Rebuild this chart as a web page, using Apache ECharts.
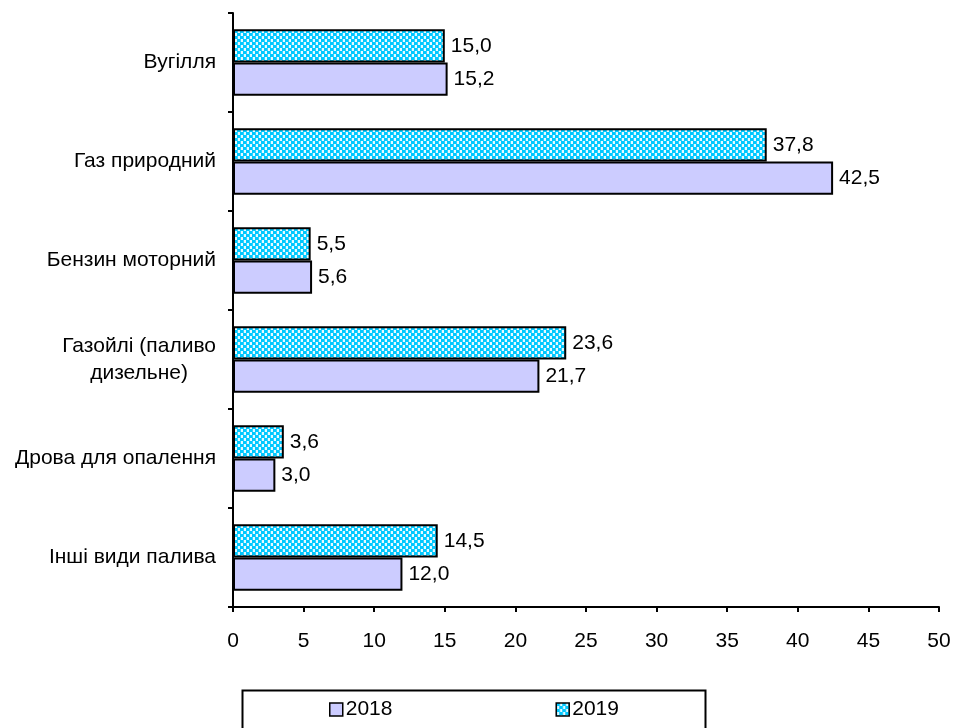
<!DOCTYPE html>
<html>
<head>
<meta charset="utf-8">
<script src="https://cdn.jsdelivr.net/npm/echarts@6/dist/echarts.min.js"></script>
<style>html,body{margin:0;padding:0;background:#fff}#c{width:954px;height:728px}</style>
</head>
<body>
<div id="c"></div>
<script>
const categories = ['Вугілля', 'Газ природний', 'Бензин моторний', 'Газойлі (паливо\nдизельне)', 'Дрова для опалення', 'Інші види палива'];
const values2018 = [15.2, 42.5, 5.6, 21.7, 3.0, 12.0];
const values2019 = [15.0, 37.8, 5.5, 23.6, 3.6, 14.5];
const xTicks = [0, 5, 10, 15, 20, 25, 30, 35, 40, 45, 50];

const FONT = 'Liberation Sans, Arial, sans-serif';
const FS = 21;

function makePattern() {
  const c = document.createElement('canvas');
  c.width = 6; c.height = 6;
  const g = c.getContext('2d');
  g.fillStyle = '#e6f9ff';
  g.fillRect(0, 0, 6, 6);
  g.fillStyle = '#00c8ff';
  g.fillRect(0, 0, 3, 3);
  g.fillRect(3, 3, 3, 3);
  g.fillStyle = '#33d4ff';
  g.fillRect(3, 0, 1, 3);
  g.fillRect(0, 3, 1, 3);
  return c;
}
const pat = makePattern();

const fmt = p => p.value.toFixed(1).replace('.', ',');

const chart = echarts.init(document.getElementById('c'), null, {renderer: 'canvas'});
chart.setOption({
  animation: false,
  textStyle: {fontFamily: FONT, color: '#000'},
  grid: {left: 233, right: 15, top: 13, bottom: 121, containLabel: false},
  xAxis: {
    type: 'value', min: xTicks[0], max: xTicks[xTicks.length - 1], interval: 5,
    splitLine: {show: false},
    axisLine: {show: true, lineStyle: {color: '#000', width: 2}},
    axisTick: {show: true, length: 5, lineStyle: {color: '#000', width: 2}},
    axisLabel: {fontSize: FS, color: '#000', fontFamily: FONT, margin: 24}
  },
  yAxis: {
    type: 'category', data: categories, inverse: true,
    axisLine: {show: true, lineStyle: {color: '#000', width: 2}},
    axisTick: {show: true, length: 5, lineStyle: {color: '#000', width: 2}},
    axisLabel: {
      fontSize: FS, color: '#000', fontFamily: FONT, margin: 17, lineHeight: 27,
      formatter: v => v.indexOf('\n') >= 0 ? v.split('\n').map(s => '{c|' + s + '}').join('\n') : v,
      rich: {c: {align: 'center', fontSize: FS, fontFamily: FONT, color: '#000', lineHeight: 27}}
    }
  },
  legend: {
    data: ['2018', '2019'],
    left: 324, top: 694, itemGap: 163,
    itemWidth: 13, itemHeight: 13, icon: 'rect',
    textStyle: {fontSize: FS, color: '#000', fontFamily: FONT, padding: [0, 0, 0, -2]},
    itemStyle: {borderColor: '#000', borderWidth: 1.5}
  },
  graphic: [{
    type: 'rect', left: 240, top: 688,
    shape: {width: 463, height: 60},
    style: {fill: 'none', stroke: '#000', lineWidth: 2}
  }],
  series: [
    {
      name: '2019', type: 'bar', data: values2019,
      barGap: '0%', barCategoryGap: '33%',
      itemStyle: {color: {image: pat, repeat: 'repeat'}, borderColor: '#000', borderWidth: 2},
      label: {show: true, position: 'right', distance: 6, formatter: fmt, fontSize: FS, color: '#000', fontFamily: FONT}
    },
    {
      name: '2018', type: 'bar', data: values2018,
      barGap: '0%', barCategoryGap: '33%',
      itemStyle: {color: '#ccccff', borderColor: '#000', borderWidth: 2},
      label: {show: true, position: 'right', distance: 6, formatter: fmt, fontSize: FS, color: '#000', fontFamily: FONT}
    }
  ]
});
</script>
</body>
</html>
